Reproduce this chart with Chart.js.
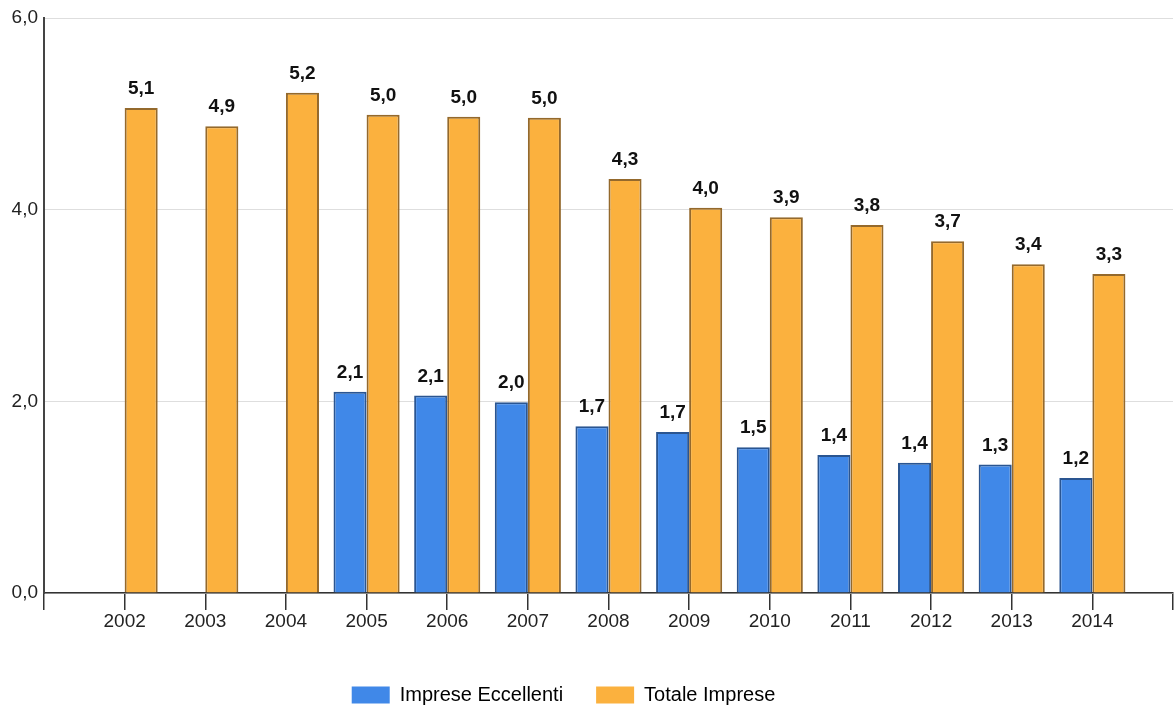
<!DOCTYPE html>
<html>
<head>
<meta charset="utf-8">
<script src="https://cdn.jsdelivr.net/npm/chart.js@4/dist/chart.umd.min.js"></script>
<style>
  html, body { margin:0; padding:0; background:#fff; }
  #wrap { width:1174px; height:709px; }
</style>
</head>
<body>
<div id="wrap"><canvas id="chart"></canvas></div>
<script>
// Data
const years = ["2002","2003","2004","2005","2006","2007","2008","2009","2010","2011","2012","2013","2014"];
const eccellenti = [null, null, null, 2.10, 2.06, 1.99, 1.74, 1.68, 1.52, 1.44, 1.36, 1.34, 1.20];
const totale = [5.06, 4.87, 5.22, 4.99, 4.97, 4.96, 4.32, 4.02, 3.92, 3.84, 3.67, 3.43, 3.33];
const yTicks = [0, 2, 4, 6];

const FONT = "'Liberation Sans', Arial, sans-serif";
const fmt = v => v.toFixed(1).replace(".", ",");

// empty slot at each end so the axis runs a half-step past the first and last year
const labels = ["", ...years, ""];
const pad = arr => [null, ...arr, null];

// value labels above bars
const valueLabels = {
  id: "valueLabels",
  afterDatasetsDraw(chart){
    const ctx = chart.ctx;
    ctx.save();
    ctx.font = "bold 19px " + FONT;
    ctx.fillStyle = "#111";
    ctx.textAlign = "center";
    ctx.textBaseline = "alphabetic";
    chart.data.datasets.forEach((ds, i)=>{
      chart.getDatasetMeta(i).data.forEach((bar, j)=>{
        const v = ds.data[j];
        if(v == null) return;
        ctx.fillText(fmt(v), bar.x, bar.y - 14);
      });
    });
    ctx.restore();
  }
};

// nudge the legend a little to the left, like the original
const legendShift = {
  id: "legendShift",
  afterLayout(chart){
    if(chart.legend) chart.legend.left -= 46;
  }
};

new Chart(document.getElementById("chart"), {
  type: "bar",
  data: {
    labels: labels,
    datasets: [
      {
        label: "Imprese Eccellenti",
        data: pad(eccellenti),
        backgroundColor: "#4088e8",
        borderColor: "#2a5591",
        borderWidth: 2
      },
      {
        label: "Totale Imprese",
        data: pad(totale),
        backgroundColor: "#fbb13e",
        borderColor: "#94692c",
        borderWidth: 2
      }
    ]
  },
  options: {
    responsive: true,
    maintainAspectRatio: false,
    animation: false,
    layout: { padding: { top: 18, right: 1, left: 0, bottom: 0 } },
    datasets: { bar: { categoryPercentage: 0.82, barPercentage: 1.0 } },
    plugins: {
      legend: {
        position: "bottom",
        maxHeight: 57,
        labels: {
          boxWidth: 38,
          boxHeight: 17,
          padding: 33,
          color: "#222",
          font: { family: FONT, size: 20 },
          generateLabels(chart){
            return chart.data.datasets.map((ds, i)=>({
              text: ds.label,
              fillStyle: ds.backgroundColor,
              strokeStyle: ds.backgroundColor,
              lineWidth: 0,
              datasetIndex: i,
              hidden: false
            }));
          }
        }
      },
      tooltip: { enabled: false }
    },
    scales: {
      x: {
        offset: false,
        afterFit(scale){ scale.height = 59; },
        grid: { display: true, offset: false, drawOnChartArea: false, drawTicks: true, tickLength: 17, color: "#333", lineWidth: 1.5 },
        border: { display: true, color: "#333", width: 1.5 },
        ticks: { autoSkip: false, maxRotation: 0, padding: 0, color: "#222", font: { family: FONT, size: 19 } }
      },
      y: {
        min: 0,
        max: 6,
        afterFit(scale){ scale.width = 44; },
        afterBuildTicks(scale){ scale.ticks = yTicks.map(v=>({value:v})); },
        grid: { color: "#dedede", lineWidth: 1, drawTicks: false },
        border: { display: true, color: "#444", width: 2 },
        ticks: { padding: 6, color: "#222", font: { family: FONT, size: 19 }, callback: v => fmt(v) }
      }
    }
  },
  plugins: [valueLabels, legendShift]
});
</script>
</body>
</html>
